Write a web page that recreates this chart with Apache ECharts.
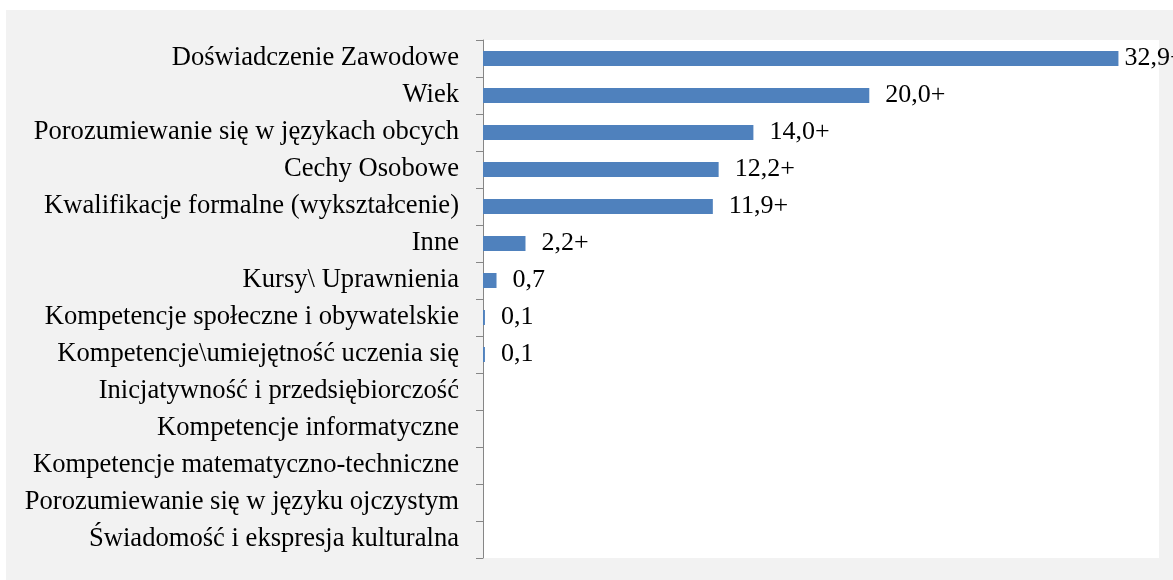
<!DOCTYPE html>
<html>
<head>
<meta charset="utf-8">
<script src="https://cdn.jsdelivr.net/npm/echarts@6/dist/echarts.min.js"></script>
<style>
    html, body { margin: 0; padding: 0; background: #fff; }
    #chart { position: absolute; left: 6px; top: 10px; width: 1167px; height: 570px; }
</style>
</head>
<body>
<div id="chart"></div>
<script>
// categories, top to bottom
var categories = [
    'Doświadczenie Zawodowe',
    'Wiek',
    'Porozumiewanie się w językach obcych',
    'Cechy Osobowe',
    'Kwalifikacje formalne (wykształcenie)',
    'Inne',
    'Kursy\\ Uprawnienia',
    'Kompetencje społeczne i obywatelskie',
    'Kompetencje\\umiejętność uczenia się',
    'Inicjatywność i przedsiębiorczość',
    'Kompetencje informatyczne',
    'Kompetencje matematyczno-techniczne',
    'Porozumiewanie się w języku ojczystym',
    'Świadomość i ekspresja kulturalna'
];
var values = [32.9, 20.0, 14.0, 12.2, 11.9, 2.2, 0.7, 0.1, 0.1, 0, 0, 0, 0, 0];
var valueLabels = ['32,9+', '20,0+', '14,0+', '12,2+', '11,9+', '2,2+', '0,7', '0,1', '0,1', '', '', '', '', ''];

var chart = echarts.init(document.getElementById('chart'));
var font = '"Liberation Serif", "Times New Roman", serif';

// longest bar's label sits closer to the bar (it runs off the edge)
var barData = values.map(function (v, i) {
    return i === 0 ? { value: v, label: { distance: 6 } } : v;
});

var option = {
    backgroundColor: '#f2f2f2',
    animation: false,
    grid: {
        left: 477,
        right: 14,
        top: 30,
        bottom: 22,
        show: true,
        backgroundColor: '#ffffff',
        borderWidth: 0
    },
    xAxis: {
        type: 'value',
        min: 0,
        max: 35,
        show: false
    },
    yAxis: {
        type: 'category',
        data: categories,
        inverse: true,
        axisLine: {
            show: true,
            lineStyle: { color: '#868686', width: 1 }
        },
        axisTick: {
            show: true,
            length: 7,
            lineStyle: { color: '#868686' }
        },
        axisLabel: {
            margin: 24,
            color: '#000',
            fontFamily: font,
            fontSize: 26.6,
            padding: [2, 0, 0, 0]
        },
        splitLine: { show: false }
    },
    series: [{
        type: 'bar',
        data: barData,
        barWidth: 15,
        itemStyle: { color: '#4f81bd' },
        label: {
            show: true,
            position: 'right',
            distance: 16,
            color: '#000',
            fontFamily: font,
            fontSize: 26,
            formatter: function (p) {
                return valueLabels[p.dataIndex];
            }
        }
    }]
};
chart.setOption(option);
</script>
</body>
</html>
